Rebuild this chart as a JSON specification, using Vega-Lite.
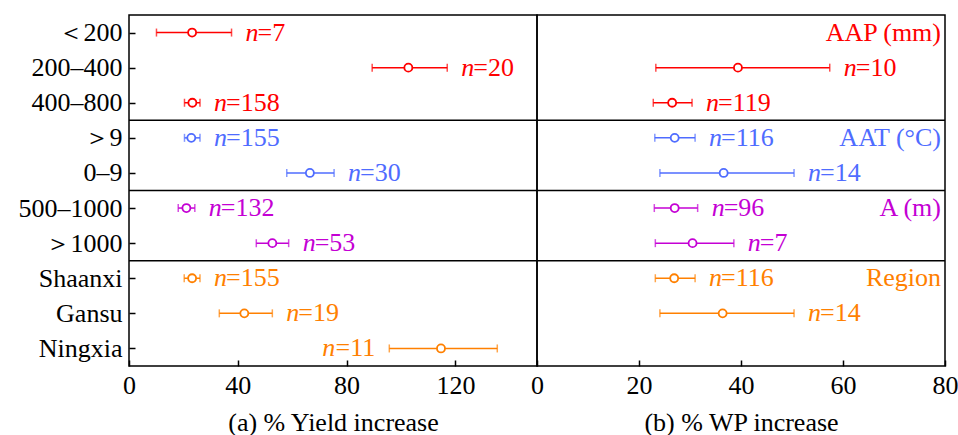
{
  "$schema": "https://vega.github.io/schema/vega-lite/v6.json",
  "padding": {"left": 5, "top": 14, "right": 5, "bottom": 0},
  "bounds": "flush",
  "background": "white",
  "config": {
    "view": {"stroke": "#000000", "strokeWidth": 1.5},
    "font": "Liberation Serif",
    "axis": {
      "labelFont": "Liberation Serif", "labelFontSize": 26, "labelColor": "#000000",
      "titleFont": "Liberation Serif", "titleFontSize": 26, "titleFontWeight": "normal", "titleColor": "#000000",
      "tickColor": "#000000", "tickSize": -6, "tickWidth": 1.5, "domain": false, "grid": false, "labelFlush": false
    },
    "concat": {"spacing": 0}
  },
  "datasets": {
    "stats": [
      {"panel": "a", "group": "AAP", "cat": "＜200", "mean": 23.2, "lo": 10.1, "hi": 37.7, "n": 7, "side": "right"},
      {"panel": "a", "group": "AAP", "cat": "200–400", "mean": 102.7, "lo": 89.4, "hi": 117.0, "n": 20, "side": "right"},
      {"panel": "a", "group": "AAP", "cat": "400–800", "mean": 23.3, "lo": 20.4, "hi": 26.1, "n": 158, "side": "right"},
      {"panel": "a", "group": "AAT", "cat": "＞9", "mean": 22.9, "lo": 20.4, "hi": 26.1, "n": 155, "side": "right"},
      {"panel": "a", "group": "AAT", "cat": "0–9", "mean": 66.5, "lo": 58.0, "hi": 75.4, "n": 30, "side": "right"},
      {"panel": "a", "group": "A", "cat": "500–1000", "mean": 21.1, "lo": 18.1, "hi": 24.2, "n": 132, "side": "right"},
      {"panel": "a", "group": "A", "cat": "＞1000", "mean": 52.7, "lo": 46.8, "hi": 58.7, "n": 53, "side": "right"},
      {"panel": "a", "group": "Region", "cat": "Shaanxi", "mean": 23.2, "lo": 20.3, "hi": 26.1, "n": 155, "side": "right"},
      {"panel": "a", "group": "Region", "cat": "Gansu", "mean": 42.4, "lo": 33.2, "hi": 52.7, "n": 19, "side": "right"},
      {"panel": "a", "group": "Region", "cat": "Ningxia", "mean": 114.7, "lo": 95.7, "hi": 135.4, "n": 11, "side": "left"},
      {"panel": "b", "group": "AAP", "cat": "200–400", "mean": 39.4, "lo": 23.3, "hi": 57.4, "n": 10, "side": "right"},
      {"panel": "b", "group": "AAP", "cat": "400–800", "mean": 26.5, "lo": 22.8, "hi": 30.4, "n": 119, "side": "right"},
      {"panel": "b", "group": "AAT", "cat": "＞9", "mean": 27.0, "lo": 23.1, "hi": 31.0, "n": 116, "side": "right"},
      {"panel": "b", "group": "AAT", "cat": "0–9", "mean": 36.6, "lo": 24.1, "hi": 50.4, "n": 14, "side": "right"},
      {"panel": "b", "group": "A", "cat": "500–1000", "mean": 27.0, "lo": 23.0, "hi": 31.5, "n": 96, "side": "right"},
      {"panel": "b", "group": "A", "cat": "＞1000", "mean": 30.5, "lo": 23.2, "hi": 38.6, "n": 7, "side": "right"},
      {"panel": "b", "group": "Region", "cat": "Shaanxi", "mean": 26.9, "lo": 23.2, "hi": 31.0, "n": 116, "side": "right"},
      {"panel": "b", "group": "Region", "cat": "Gansu", "mean": 36.4, "lo": 24.1, "hi": 50.4, "n": 14, "side": "right"}
    ],
    "groups": [
      {"group": "AAP", "label": "AAP (mm)", "cat": "＜200"},
      {"group": "AAT", "label": "AAT (°C)", "cat": "＞9"},
      {"group": "A", "label": "A (m)", "cat": "500–1000"},
      {"group": "Region", "label": "Region", "cat": "Shaanxi"}
    ],
    "seps": [
      {"cat": "400–800"},
      {"cat": "0–9"},
      {"cat": "＞1000"}
    ]
  },
  "hconcat": [
    {
      "width": 408,
      "height": 351,
      "encoding": {
        "y": {
          "field": "cat", "type": "nominal",
          "scale": {"type": "point", "padding": 0.5, "domain": ["＜200", "200–400", "400–800", "＞9", "0–9", "500–1000", "＞1000", "Shaanxi", "Gansu", "Ningxia"]},
          "axis": {"title": null, "labelPadding": 13, "minExtent": 123, "maxExtent": 123}
        }
      },
      "layer": [
        {
          "data": {"name": "seps"},
          "mark": {"type": "rule", "color": "#000000", "strokeWidth": 1.5, "yOffset": 17.55},
          "encoding": {"y": {"field": "cat", "type": "nominal"}}
        },
        {
          "data": {"name": "stats"},
          "transform": [{"filter": "datum.panel === 'a'"}],
          "mark": {"type": "rule", "strokeWidth": 1.5},
          "encoding": {
            "x": {"field": "lo", "type": "quantitative", "scale": {"domain": [0, 150], "nice": false}, "axis": {"values": [0, 40, 80, 120], "title": "(a) % Yield increase", "labelPadding": 12, "titlePadding": 11}},
            "x2": {"field": "hi"},
            "color": {"field": "group", "type": "nominal", "scale": {"domain": ["AAP", "AAT", "A", "Region"], "range": ["#ff0000", "#4f6cff", "#c400d4", "#ff8000"]}, "legend": null}
          }
        },
        {
          "data": {"name": "stats"},
          "transform": [{"filter": "datum.panel === 'a'"}, {"fold": ["lo", "hi"], "as": ["end", "val"]}],
          "mark": {"type": "tick", "size": 8, "thickness": 1.5},
          "encoding": {
            "x": {"field": "val", "type": "quantitative"},
            "color": {"field": "group", "type": "nominal", "legend": null}
          }
        },
        {
          "data": {"name": "stats"},
          "transform": [{"filter": "datum.panel === 'a'"}],
          "mark": {"type": "point", "shape": "circle", "size": 64, "filled": false, "fill": "white", "fillOpacity": 1, "strokeWidth": 1.8, "opacity": 1},
          "encoding": {
            "x": {"field": "mean", "type": "quantitative"},
            "color": {"field": "group", "type": "nominal", "legend": null}
          }
        },
        {
          "data": {"name": "stats"},
          "transform": [{"filter": "datum.panel === 'a' && datum.side === 'right'"}],
          "mark": {"type": "text", "align": "left", "baseline": "middle", "dx": 14, "fontSize": 26, "fontStyle": "italic", "font": "Liberation Serif"},
          "encoding": {
            "x": {"field": "hi", "type": "quantitative"},
            "text": {"value": "n"},
            "color": {"field": "group", "type": "nominal", "legend": null}
          }
        },
        {
          "data": {"name": "stats"},
          "transform": [{"filter": "datum.panel === 'a' && datum.side === 'right'"}, {"calculate": "'=' + datum.n", "as": "eqn"}],
          "mark": {"type": "text", "align": "left", "baseline": "middle", "dx": 26, "fontSize": 26, "font": "Liberation Serif"},
          "encoding": {
            "x": {"field": "hi", "type": "quantitative"},
            "text": {"field": "eqn"},
            "color": {"field": "group", "type": "nominal", "legend": null}
          }
        },
        {
          "data": {"name": "stats"},
          "transform": [{"filter": "datum.panel === 'a' && datum.side === 'left'"}, {"calculate": "'=' + datum.n", "as": "eqn"}],
          "mark": {"type": "text", "align": "right", "baseline": "middle", "dx": -14, "fontSize": 26, "font": "Liberation Serif"},
          "encoding": {
            "x": {"field": "lo", "type": "quantitative"},
            "text": {"field": "eqn"},
            "color": {"field": "group", "type": "nominal", "legend": null}
          }
        },
        {
          "data": {"name": "stats"},
          "transform": [{"filter": "datum.panel === 'a' && datum.side === 'left'"}],
          "mark": {"type": "text", "align": "right", "baseline": "middle", "dx": -54, "fontSize": 26, "fontStyle": "italic", "font": "Liberation Serif"},
          "encoding": {
            "x": {"field": "lo", "type": "quantitative"},
            "text": {"value": "n"},
            "color": {"field": "group", "type": "nominal", "legend": null}
          }
        }
      ]
    },
    {
      "width": 408,
      "height": 351,
      "encoding": {
        "y": {
          "field": "cat", "type": "nominal",
          "scale": {"type": "point", "padding": 0.5, "domain": ["＜200", "200–400", "400–800", "＞9", "0–9", "500–1000", "＞1000", "Shaanxi", "Gansu", "Ningxia"]},
          "axis": null
        }
      },
      "layer": [
        {
          "data": {"name": "seps"},
          "mark": {"type": "rule", "color": "#000000", "strokeWidth": 1.5, "yOffset": 17.55},
          "encoding": {"y": {"field": "cat", "type": "nominal"}}
        },
        {
          "data": {"name": "stats"},
          "transform": [{"filter": "datum.panel === 'b'"}],
          "mark": {"type": "rule", "strokeWidth": 1.5},
          "encoding": {
            "x": {"field": "lo", "type": "quantitative", "scale": {"domain": [0, 80], "nice": false}, "axis": {"values": [0, 20, 40, 60, 80], "title": "(b) % WP increase", "labelPadding": 12, "titlePadding": 11}},
            "x2": {"field": "hi"},
            "color": {"field": "group", "type": "nominal", "scale": {"domain": ["AAP", "AAT", "A", "Region"], "range": ["#ff0000", "#4f6cff", "#c400d4", "#ff8000"]}, "legend": null}
          }
        },
        {
          "data": {"name": "stats"},
          "transform": [{"filter": "datum.panel === 'b'"}, {"fold": ["lo", "hi"], "as": ["end", "val"]}],
          "mark": {"type": "tick", "size": 8, "thickness": 1.5},
          "encoding": {
            "x": {"field": "val", "type": "quantitative"},
            "color": {"field": "group", "type": "nominal", "legend": null}
          }
        },
        {
          "data": {"name": "stats"},
          "transform": [{"filter": "datum.panel === 'b'"}],
          "mark": {"type": "point", "shape": "circle", "size": 64, "filled": false, "fill": "white", "fillOpacity": 1, "strokeWidth": 1.8, "opacity": 1},
          "encoding": {
            "x": {"field": "mean", "type": "quantitative"},
            "color": {"field": "group", "type": "nominal", "legend": null}
          }
        },
        {
          "data": {"name": "stats"},
          "transform": [{"filter": "datum.panel === 'b'"}],
          "mark": {"type": "text", "align": "left", "baseline": "middle", "dx": 14, "fontSize": 26, "fontStyle": "italic", "font": "Liberation Serif"},
          "encoding": {
            "x": {"field": "hi", "type": "quantitative"},
            "text": {"value": "n"},
            "color": {"field": "group", "type": "nominal", "legend": null}
          }
        },
        {
          "data": {"name": "stats"},
          "transform": [{"filter": "datum.panel === 'b'"}, {"calculate": "'=' + datum.n", "as": "eqn"}],
          "mark": {"type": "text", "align": "left", "baseline": "middle", "dx": 26, "fontSize": 26, "font": "Liberation Serif"},
          "encoding": {
            "x": {"field": "hi", "type": "quantitative"},
            "text": {"field": "eqn"},
            "color": {"field": "group", "type": "nominal", "legend": null}
          }
        },
        {
          "data": {"name": "groups"},
          "mark": {"type": "text", "align": "right", "baseline": "middle", "dx": -4, "fontSize": 26, "font": "Liberation Serif"},
          "encoding": {
            "x": {"datum": 80},
            "text": {"field": "label"},
            "color": {"field": "group", "type": "nominal", "legend": null}
          }
        }
      ]
    }
  ]
}
